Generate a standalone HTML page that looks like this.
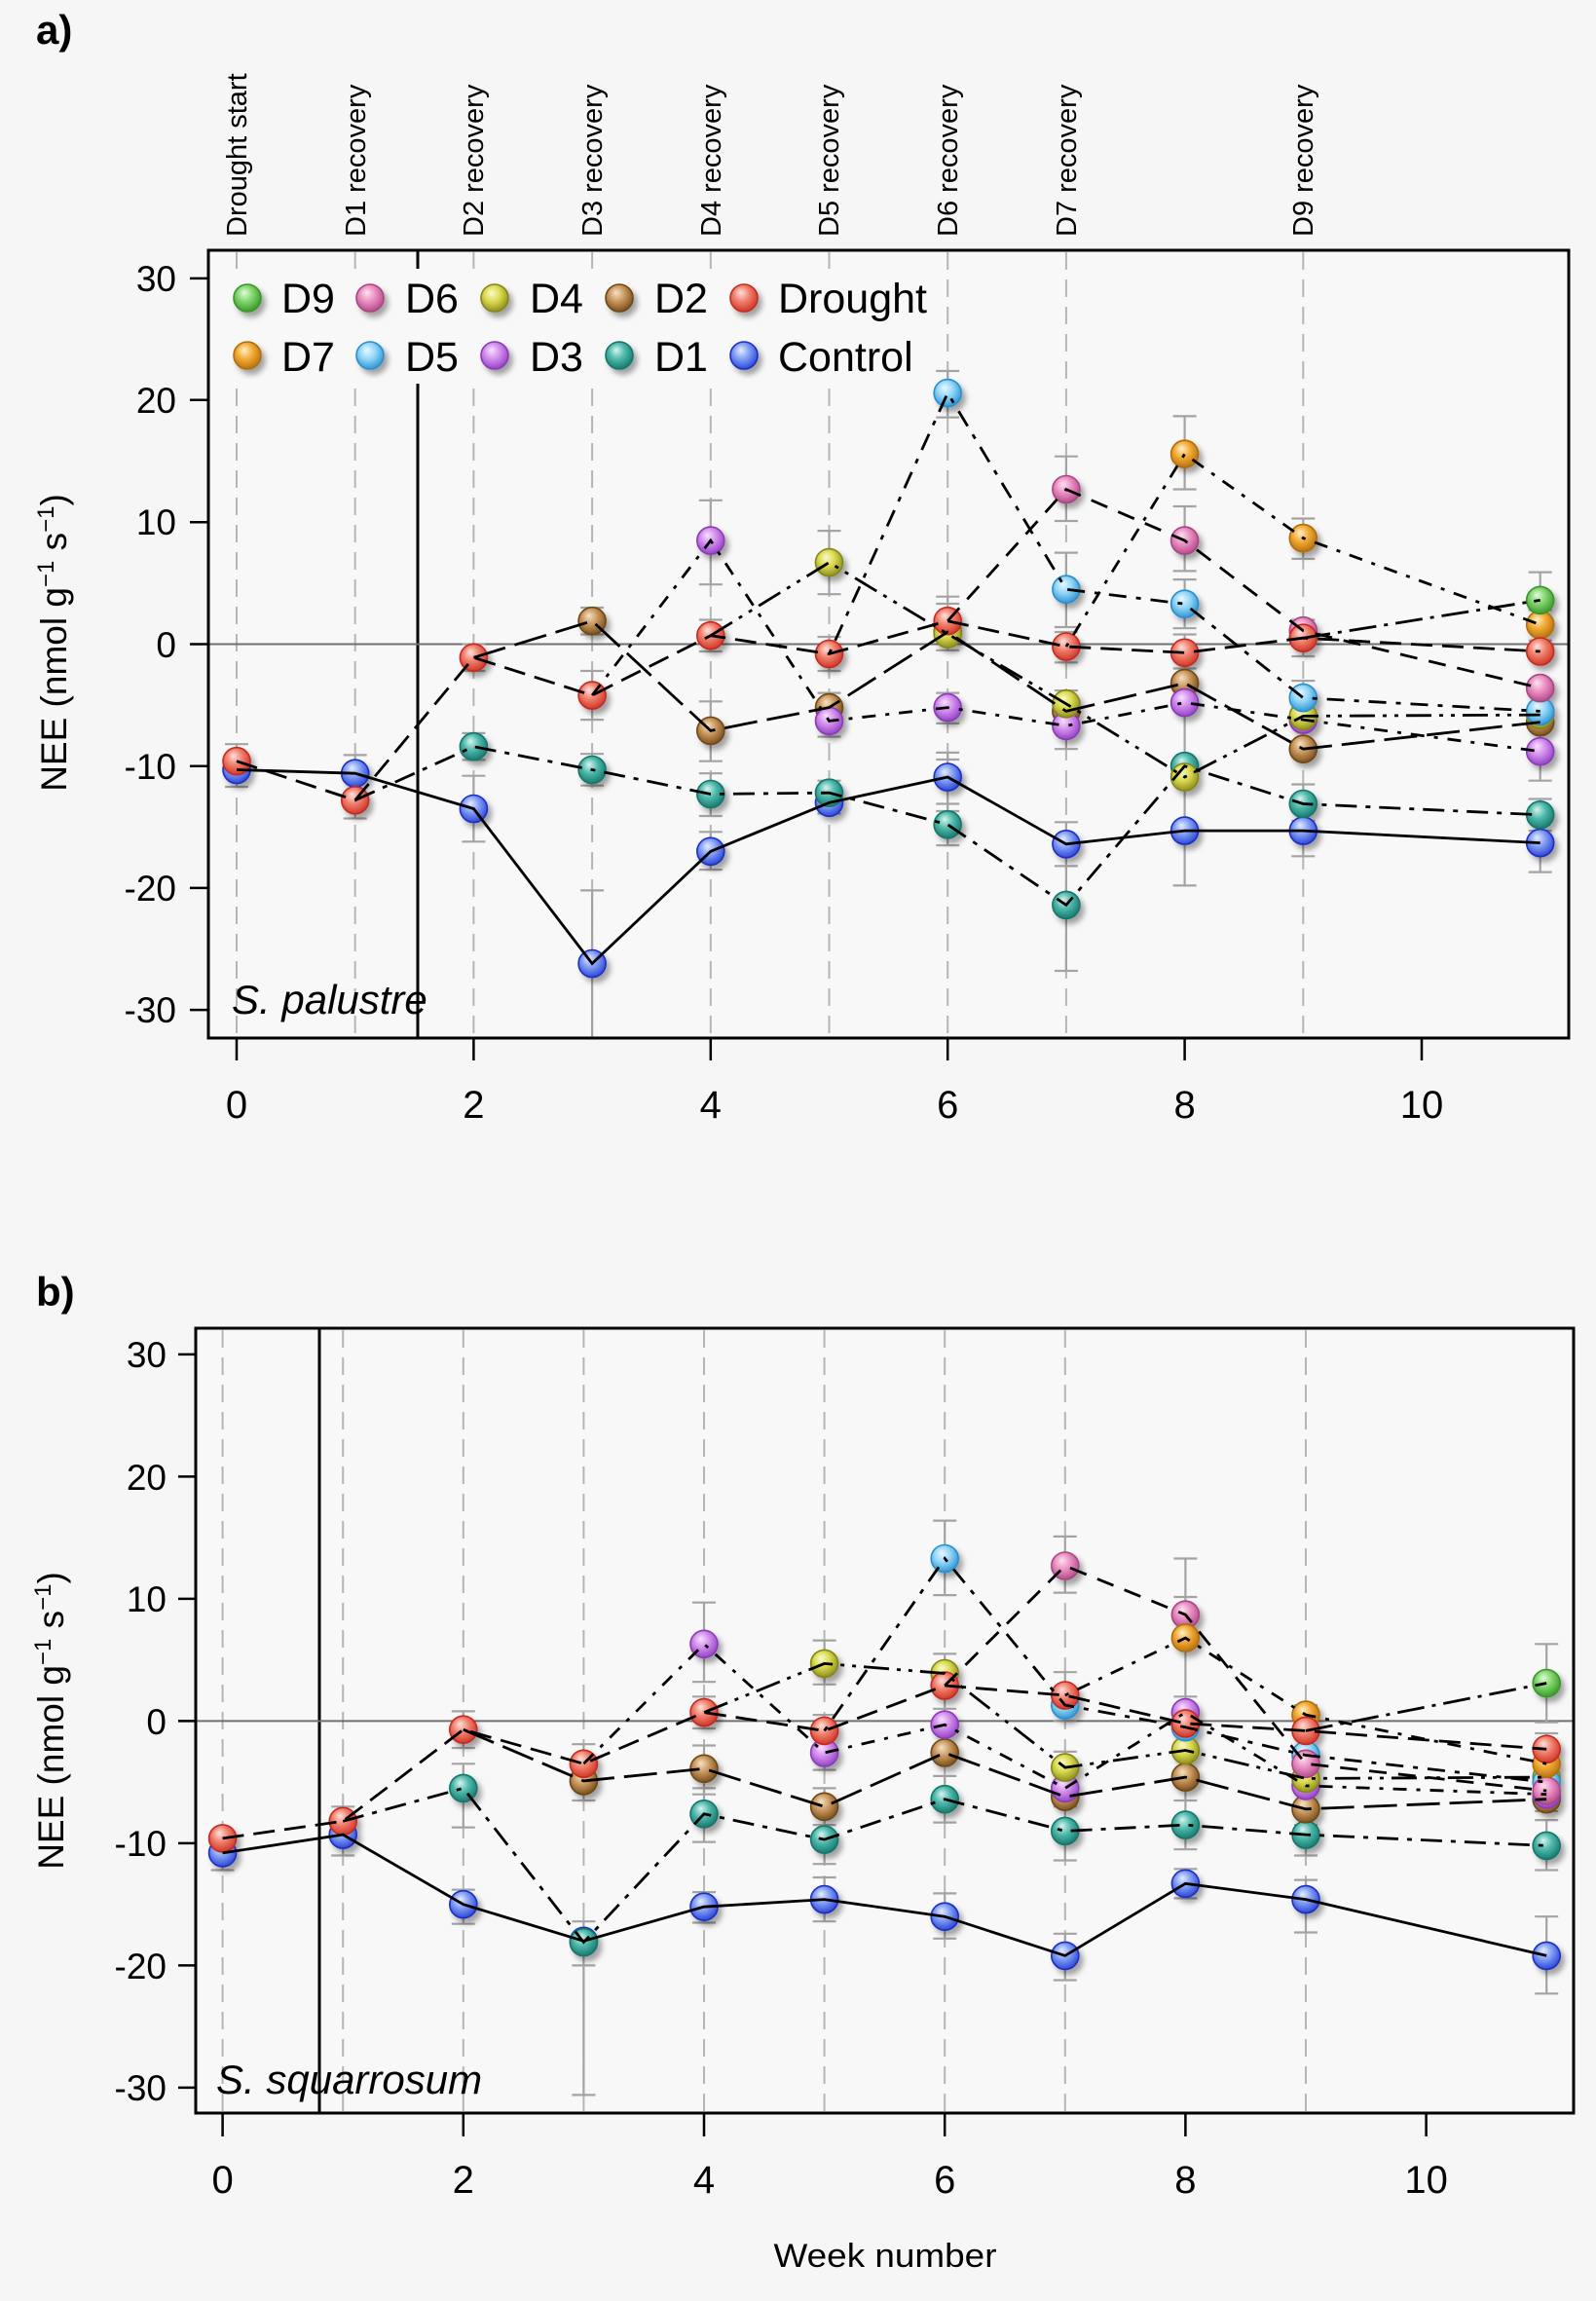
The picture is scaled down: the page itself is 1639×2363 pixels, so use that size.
<!DOCTYPE html>
<html>
<head>
<meta charset="utf-8">
<style>
html,body{margin:0;padding:0;background:#f6f6f6;}
svg{display:block;}
text{font-family:"Liberation Sans",Arial,sans-serif;fill:#000;}
.eb{fill:none;stroke:#a3a3a3;stroke-width:2.2;}
.vd{stroke:#b5b5b5;stroke-width:2;stroke-dasharray:18 10;}
.ln{fill:none;stroke:#000;stroke-width:2.8;}
.pC{fill:url(#gC);stroke:#1b2fc4;stroke-width:1.6;}
.pDr{fill:url(#gDr);stroke:#c42a22;stroke-width:1.6;}
.p1{fill:url(#g1);stroke:#17766c;stroke-width:1.6;}
.p2{fill:url(#g2);stroke:#6e4818;stroke-width:1.6;}
.p3{fill:url(#g3);stroke:#8a3ab8;stroke-width:1.6;}
.p4{fill:url(#g4);stroke:#85851a;stroke-width:1.6;}
.p5{fill:url(#g5);stroke:#2a8fcf;stroke-width:1.6;}
.p6{fill:url(#g6);stroke:#a84682;stroke-width:1.6;}
.p7{fill:url(#g7);stroke:#b06e0c;stroke-width:1.6;}
.p9{fill:url(#g9);stroke:#3a962a;stroke-width:1.6;}
.dC{}
.dDr{stroke-dasharray:22 10;}
.d1{stroke-dasharray:22 9 5 9;}
.d2{stroke-dasharray:34 10;}
.d3{stroke-dasharray:14 10 4 10;}
.d4{stroke-dasharray:26 8 4 8 4 8;}
.d5{stroke-dasharray:5 10 18 10;}
.d6{stroke-dasharray:18 12;}
.d7{stroke-dasharray:4 10 14 10;}
.d9{stroke-dasharray:28 8 4 8;}
</style>
</head>
<body>
<svg width="1639" height="2363" viewBox="0 0 1639 2363" xmlns="http://www.w3.org/2000/svg">
<defs>
<filter id="sh" x="-50%" y="-50%" width="200%" height="200%">
<feDropShadow dx="4" dy="5" stdDeviation="3" flood-color="#000" flood-opacity="0.35"/>
</filter>
<radialGradient id="gC" cx="0.45" cy="0.4" r="0.6" fx="0.38" fy="0.3"><stop offset="0" stop-color="#e6ecff"/><stop offset="0.5" stop-color="#7f9cf2"/><stop offset="1" stop-color="#3048d8"/></radialGradient>
<radialGradient id="gDr" cx="0.45" cy="0.4" r="0.6" fx="0.38" fy="0.3"><stop offset="0" stop-color="#ffe2dc"/><stop offset="0.5" stop-color="#f07e6c"/><stop offset="1" stop-color="#d03828"/></radialGradient>
<radialGradient id="g1" cx="0.45" cy="0.4" r="0.6" fx="0.38" fy="0.3"><stop offset="0" stop-color="#d8f4ef"/><stop offset="0.5" stop-color="#4cb8aa"/><stop offset="1" stop-color="#1a7a70"/></radialGradient>
<radialGradient id="g2" cx="0.45" cy="0.4" r="0.6" fx="0.38" fy="0.3"><stop offset="0" stop-color="#f6e2c8"/><stop offset="0.5" stop-color="#c8955a"/><stop offset="1" stop-color="#7a5020"/></radialGradient>
<radialGradient id="g3" cx="0.45" cy="0.4" r="0.6" fx="0.38" fy="0.3"><stop offset="0" stop-color="#f6e2ff"/><stop offset="0.5" stop-color="#d28ceb"/><stop offset="1" stop-color="#9444c6"/></radialGradient>
<radialGradient id="g4" cx="0.45" cy="0.4" r="0.6" fx="0.38" fy="0.3"><stop offset="0" stop-color="#fafad0"/><stop offset="0.5" stop-color="#dada4e"/><stop offset="1" stop-color="#909020"/></radialGradient>
<radialGradient id="g5" cx="0.45" cy="0.4" r="0.6" fx="0.38" fy="0.3"><stop offset="0" stop-color="#eaf8ff"/><stop offset="0.5" stop-color="#92d6f6"/><stop offset="1" stop-color="#3296d4"/></radialGradient>
<radialGradient id="g6" cx="0.45" cy="0.4" r="0.6" fx="0.38" fy="0.3"><stop offset="0" stop-color="#fde2f0"/><stop offset="0.5" stop-color="#ea8ec2"/><stop offset="1" stop-color="#b44c8c"/></radialGradient>
<radialGradient id="g7" cx="0.45" cy="0.4" r="0.6" fx="0.38" fy="0.3"><stop offset="0" stop-color="#fff0c8"/><stop offset="0.5" stop-color="#f2aa34"/><stop offset="1" stop-color="#b87210"/></radialGradient>
<radialGradient id="g9" cx="0.45" cy="0.4" r="0.6" fx="0.38" fy="0.3"><stop offset="0" stop-color="#e2fadc"/><stop offset="0.5" stop-color="#80d46c"/><stop offset="1" stop-color="#3c9a2c"/></radialGradient>
</defs>

<rect x="0" y="0" width="1639" height="2363" fill="#f6f6f6"/>

<!-- ================= PANEL A ================= -->
<text x="37" y="45" font-size="42" font-weight="bold">a)</text>

<!-- top rotated labels -->
<g font-size="29">
<text transform="translate(253,243) rotate(-90)">Drought start</text>
<text transform="translate(375,243) rotate(-90)">D1 recovery</text>
<text transform="translate(496,243) rotate(-90)">D2 recovery</text>
<text transform="translate(618,243) rotate(-90)">D3 recovery</text>
<text transform="translate(740,243) rotate(-90)">D4 recovery</text>
<text transform="translate(861,243) rotate(-90)">D5 recovery</text>
<text transform="translate(983,243) rotate(-90)">D6 recovery</text>
<text transform="translate(1105,243) rotate(-90)">D7 recovery</text>
<text transform="translate(1348,243) rotate(-90)">D9 recovery</text>
</g>

<rect x="214" y="257" width="1397" height="809" fill="#f8f8f8"/>
<!-- vertical dashed -->
<g class="vd">
<line x1="243" y1="259" x2="243" y2="1064"/>
<line x1="364.7" y1="259" x2="364.7" y2="1064"/>
<line x1="486.4" y1="259" x2="486.4" y2="1064"/>
<line x1="608.1" y1="259" x2="608.1" y2="1064"/>
<line x1="729.8" y1="259" x2="729.8" y2="1064"/>
<line x1="851.5" y1="259" x2="851.5" y2="1064"/>
<line x1="973.2" y1="259" x2="973.2" y2="1064"/>
<line x1="1094.9" y1="259" x2="1094.9" y2="1064"/>
<line x1="1338.3" y1="259" x2="1338.3" y2="1064"/>
</g>
<line x1="429" y1="257" x2="429" y2="1066" stroke="#000" stroke-width="3"/>
<line x1="214" y1="661.5" x2="1611" y2="661.5" stroke="#707070" stroke-width="2"/>

<!-- legend background -->
<rect x="222" y="276" width="743" height="118" fill="#f8f8f8"/>

<!-- y axis -->
<g stroke="#000" stroke-width="2.5">
<line x1="195" y1="285.9" x2="214" y2="285.9"/>
<line x1="195" y1="410.7" x2="214" y2="410.7"/>
<line x1="195" y1="536.3" x2="214" y2="536.3"/>
<line x1="195" y1="661.5" x2="214" y2="661.5"/>
<line x1="195" y1="786.7" x2="214" y2="786.7"/>
<line x1="195" y1="911.9" x2="214" y2="911.9"/>
<line x1="195" y1="1037.1" x2="214" y2="1037.1"/>
</g>
<g font-size="37" text-anchor="end">
<text x="181" y="299">30</text>
<text x="181" y="424">20</text>
<text x="181" y="549">10</text>
<text x="181" y="675">0</text>
<text x="181" y="800">-10</text>
<text x="181" y="925">-20</text>
<text x="181" y="1050">-30</text>
</g>
<text transform="translate(68,660) rotate(-90)" font-size="37" text-anchor="middle">NEE (nmol g<tspan font-size="24" dy="-13">−1</tspan><tspan dy="13"> s</tspan><tspan font-size="24" dy="-13">−1</tspan><tspan dy="13">)</tspan></text>

<!-- x axis -->
<g stroke="#000" stroke-width="2.5">
<line x1="243" y1="1066" x2="243" y2="1089"/>
<line x1="486.4" y1="1066" x2="486.4" y2="1089"/>
<line x1="729.8" y1="1066" x2="729.8" y2="1089"/>
<line x1="973.2" y1="1066" x2="973.2" y2="1089"/>
<line x1="1216.6" y1="1066" x2="1216.6" y2="1089"/>
<line x1="1460" y1="1066" x2="1460" y2="1089"/>
</g>
<g font-size="40" text-anchor="middle">
<text x="243" y="1148">0</text>
<text x="486.4" y="1148">2</text>
<text x="729.8" y="1148">4</text>
<text x="973.2" y="1148">6</text>
<text x="1216.6" y="1148">8</text>
<text x="1460" y="1148">10</text>
</g>

<!-- error bars A -->
<path class="eb" d="M243 764.2V808M231 764.2h24M231 808h24
M364.7 775.4V840.5M352.7 775.4h24M352.7 840.5h24
M486.4 661.5V689M474.4 661.5h24M474.4 689h24M486.4 752.9V780.4M474.4 752.9h24M474.4 780.4h24M486.4 796.7V864.3M474.4 796.7h24M474.4 864.3h24
M608.1 689V739.1M596.1 689h24M596.1 739.1h24M608.1 774.2V806.7M596.1 774.2h24M596.1 806.7h24M608.1 624V651.5M596.1 624h24M596.1 651.5h24M608.1 914.4V1066M596.1 914.4h24
M729.8 513.8V600.2M717.8 513.8h24M717.8 600.2h24M729.8 636.5V669M717.8 636.5h24M717.8 669h24M729.8 720.3V781.7M717.8 720.3h24M717.8 781.7h24M729.8 794.2V838M717.8 794.2h24M717.8 838h24M729.8 854.3V893.1M717.8 854.3h24M717.8 893.1h24
M851.5 545.1V610.2M839.5 545.1h24M839.5 610.2h24M851.5 654V689M839.5 654h24M839.5 689h24M851.5 711.6V756.6M839.5 711.6h24M839.5 756.6h24M851.5 801.7V835.5M839.5 801.7h24M839.5 835.5h24
M973.2 381V428.6M961.2 381h24M961.2 428.6h24M973.2 612.7V667.8M961.2 612.7h24M961.2 620h24M961.2 667.8h24M973.2 711.6V742.9M961.2 711.6h24M961.2 742.9h24M973.2 772.9V833M961.2 772.9h24M961.2 780h24M961.2 833h24M973.2 825.5V868.1M961.2 825.5h24M961.2 868.1h24
M1094.9 468.7V535M1082.9 468.7h24M1082.9 535h24M1094.9 567.6V644M1082.9 567.6h24M1082.9 644h24M1094.9 649V680.3M1082.9 649h24M1082.9 680.3h24M1094.9 709.1V769.2M1082.9 709.1h24M1082.9 769.2h24M1094.9 844.3V889.4M1082.9 844.3h24M1082.9 889.4h24M1094.9 861.8V997M1082.9 861.8h24M1082.9 997h24
M1216.6 427.4V502.5M1204.6 427.4h24M1204.6 502.5h24M1216.6 520V586.4M1204.6 520h24M1204.6 586.4h24M1216.6 595.1V645.2M1204.6 595.1h24M1204.6 645.2h24M1216.6 651.5V686.5M1204.6 651.5h24M1204.6 686.5h24M1216.6 680.3V724.1M1204.6 724.1h24M1216.6 724V909.4M1204.6 799.2h24M1204.6 909.4h24
M1338.3 532.5V573.9M1326.3 532.5h24M1326.3 573.9h24M1338.3 636.5V674M1326.3 636.5h24M1326.3 674h24M1338.3 699.1V761.7M1326.3 699.1h24M1326.3 761.7h24M1338.3 805.5V843M1326.3 805.5h24M1326.3 843h24M1338.3 830.5V879.3M1326.3 830.5h24M1326.3 879.3h24
M1581.7 587.6V645.2M1569.7 587.6h24M1569.7 645.2h24M1581.7 626.4V657.7M1569.7 626.4h24M1569.7 657.7h24M1581.7 742.9V801.7M1569.7 742.9h24M1569.7 801.7h24M1581.7 820.5V853.1M1569.7 820.5h24M1569.7 853.1h24M1581.7 836.8V895.6M1569.7 836.8h24M1569.7 895.6h24"/>

<!-- points A -->
<g filter="url(#sh)">
<g class="pC">
<circle cx="243" cy="790.5" r="14"/><circle cx="364.7" cy="794.2" r="14"/><circle cx="486.4" cy="830.5" r="14"/><circle cx="608.1" cy="989.5" r="14"/><circle cx="729.8" cy="874.3" r="14"/><circle cx="851.5" cy="824.3" r="14"/><circle cx="973.2" cy="798" r="14"/><circle cx="1094.9" cy="866.8" r="14"/><circle cx="1216.6" cy="853.1" r="14"/><circle cx="1338.3" cy="853.1" r="14"/><circle cx="1581.7" cy="865.6" r="14"/>
</g>
<g class="p1">
<circle cx="486.4" cy="766.7" r="14"/><circle cx="608.1" cy="790.5" r="14"/><circle cx="729.8" cy="815.5" r="14"/><circle cx="851.5" cy="814.2" r="14"/><circle cx="973.2" cy="846.8" r="14"/><circle cx="1094.9" cy="929.4" r="14"/><circle cx="1216.6" cy="786.7" r="14"/><circle cx="1338.3" cy="825.5" r="14"/><circle cx="1581.7" cy="836.8" r="14"/>
</g>
<g class="p2">
<circle cx="608.1" cy="637.7" r="14"/><circle cx="729.8" cy="750.4" r="14"/><circle cx="851.5" cy="726.6" r="14"/><circle cx="973.2" cy="649" r="14"/><circle cx="1094.9" cy="730.4" r="14"/><circle cx="1216.6" cy="701.6" r="14"/><circle cx="1338.3" cy="769.2" r="14"/><circle cx="1581.7" cy="741.6" r="14"/>
</g>
<g class="p3">
<circle cx="729.8" cy="555.1" r="14"/><circle cx="851.5" cy="740.4" r="14"/><circle cx="973.2" cy="726.6" r="14"/><circle cx="1094.9" cy="745.4" r="14"/><circle cx="1216.6" cy="721.6" r="14"/><circle cx="1338.3" cy="739.1" r="14"/><circle cx="1581.7" cy="771.7" r="14"/>
</g>
<g class="p4">
<circle cx="851.5" cy="577.6" r="14"/><circle cx="973.2" cy="651" r="14"/><circle cx="1094.9" cy="722.8" r="14"/><circle cx="1216.6" cy="798" r="14"/><circle cx="1338.3" cy="735.4" r="14"/><circle cx="1581.7" cy="734.1" r="14"/>
</g>
<g class="p5">
<circle cx="973.2" cy="403.6" r="14"/><circle cx="1094.9" cy="605.2" r="14"/><circle cx="1216.6" cy="620.2" r="14"/><circle cx="1338.3" cy="716.6" r="14"/><circle cx="1581.7" cy="730.4" r="14"/>
</g>
<g class="p6">
<circle cx="1094.9" cy="502.5" r="14"/><circle cx="1216.6" cy="555.1" r="14"/><circle cx="1338.3" cy="647.7" r="14"/><circle cx="1581.7" cy="706.6" r="14"/>
</g>
<g class="p7">
<circle cx="1216.6" cy="466.2" r="14"/><circle cx="1338.3" cy="552.6" r="14"/><circle cx="1581.7" cy="641.5" r="14"/>
</g>
<g class="p9">
<circle cx="1581.7" cy="616.4" r="14"/>
</g>
<g class="pDr">
<circle cx="243" cy="781.7" r="14"/><circle cx="364.7" cy="821.8" r="14"/><circle cx="486.4" cy="675.3" r="14"/><circle cx="608.1" cy="714.1" r="14"/><circle cx="729.8" cy="652.7" r="14"/><circle cx="851.5" cy="671.5" r="14"/><circle cx="973.2" cy="637.7" r="14"/><circle cx="1094.9" cy="664" r="14"/><circle cx="1216.6" cy="670.3" r="14"/><circle cx="1338.3" cy="655.2" r="14"/><circle cx="1581.7" cy="669" r="14"/>
</g>
</g>

<!-- lines A -->
<polyline class="ln dC" points="243,790.5 364.7,794.2 486.4,830.5 608.1,989.5 729.8,874.3 851.5,824.3 973.2,798 1094.9,866.8 1216.6,853.1 1338.3,853.1 1581.7,865.6"/>
<polyline class="ln dDr" points="243,781.7 364.7,821.8 486.4,675.3 608.1,714.1 729.8,652.7 851.5,671.5 973.2,637.7 1094.9,664 1216.6,670.3 1338.3,655.2 1581.7,669"/>
<polyline class="ln d1" points="364.7,821.8 486.4,766.7 608.1,790.5 729.8,815.5 851.5,814.2 973.2,846.8 1094.9,929.4 1216.6,786.7 1338.3,825.5 1581.7,836.8"/>
<polyline class="ln d2" points="486.4,675.3 608.1,637.7 729.8,750.4 851.5,726.6 973.2,649 1094.9,730.4 1216.6,701.6 1338.3,769.2 1581.7,741.6"/>
<polyline class="ln d3" points="608.1,714.1 729.8,555.1 851.5,740.4 973.2,726.6 1094.9,745.4 1216.6,721.6 1338.3,739.1 1581.7,771.7"/>
<polyline class="ln d4" points="729.8,652.7 851.5,577.6 973.2,651 1094.9,722.8 1216.6,798 1338.3,735.4 1581.7,734.1"/>
<polyline class="ln d5" points="851.5,671.5 973.2,403.6 1094.9,605.2 1216.6,620.2 1338.3,716.6 1581.7,730.4"/>
<polyline class="ln d6" points="973.2,637.7 1094.9,502.5 1216.6,555.1 1338.3,647.7 1581.7,706.6"/>
<polyline class="ln d7" points="1094.9,664 1216.6,466.2 1338.3,552.6 1581.7,641.5"/>
<polyline class="ln d9" points="1338.3,655.2 1581.7,616.4"/>

<!-- legend -->
<g filter="url(#sh)">
<circle class="p9" cx="254" cy="306" r="14"/>
<circle class="p6" cx="380" cy="306" r="14"/>
<circle class="p4" cx="508" cy="306" r="14"/>
<circle class="p2" cx="636" cy="306" r="14"/>
<circle class="pDr" cx="764" cy="306" r="14"/>
<circle class="p7" cx="254" cy="365" r="14"/>
<circle class="p5" cx="380" cy="365" r="14"/>
<circle class="p3" cx="508" cy="365" r="14"/>
<circle class="p1" cx="636" cy="365" r="14"/>
<circle class="pC" cx="764" cy="365" r="14"/>
</g>
<g font-size="43">
<text x="289" y="321">D9</text>
<text x="416" y="321">D6</text>
<text x="544" y="321">D4</text>
<text x="672" y="321">D2</text>
<text x="799" y="321">Drought</text>
<text x="289" y="381">D7</text>
<text x="416" y="381">D5</text>
<text x="544" y="381">D3</text>
<text x="672" y="381">D1</text>
<text x="799" y="381">Control</text>
</g>

<text x="238" y="1041" font-size="42" font-style="italic">S. palustre</text>

<rect x="214" y="257" width="1397" height="809" fill="none" stroke="#000" stroke-width="3"/>

<!-- ================= PANEL B ================= -->
<text x="37" y="1341" font-size="42" font-weight="bold">b)</text>

<rect x="201" y="1364" width="1415" height="806" fill="#f8f8f8"/>
<g class="vd">
<line x1="228.6" y1="1366" x2="228.6" y2="2168"/>
<line x1="352.2" y1="1366" x2="352.2" y2="2168"/>
<line x1="475.8" y1="1366" x2="475.8" y2="2168"/>
<line x1="599.4" y1="1366" x2="599.4" y2="2168"/>
<line x1="723" y1="1366" x2="723" y2="2168"/>
<line x1="846.6" y1="1366" x2="846.6" y2="2168"/>
<line x1="970.2" y1="1366" x2="970.2" y2="2168"/>
<line x1="1093.8" y1="1366" x2="1093.8" y2="2168"/>
<line x1="1341" y1="1366" x2="1341" y2="2168"/>
</g>
<line x1="328" y1="1364" x2="328" y2="2170" stroke="#000" stroke-width="3"/>
<line x1="201" y1="1767.4" x2="1616" y2="1767.4" stroke="#707070" stroke-width="2"/>

<g stroke="#000" stroke-width="2.5">
<line x1="183" y1="1390.9" x2="201" y2="1390.9"/>
<line x1="183" y1="1516.4" x2="201" y2="1516.4"/>
<line x1="183" y1="1641.9" x2="201" y2="1641.9"/>
<line x1="183" y1="1767.4" x2="201" y2="1767.4"/>
<line x1="183" y1="1892.9" x2="201" y2="1892.9"/>
<line x1="183" y1="2018.4" x2="201" y2="2018.4"/>
<line x1="183" y1="2143.9" x2="201" y2="2143.9"/>
</g>
<g font-size="37" text-anchor="end">
<text x="171" y="1404">30</text>
<text x="171" y="1530">20</text>
<text x="171" y="1655">10</text>
<text x="171" y="1781">0</text>
<text x="171" y="1906">-10</text>
<text x="171" y="2032">-20</text>
<text x="171" y="2157">-30</text>
</g>
<text transform="translate(65,1767) rotate(-90)" font-size="37" text-anchor="middle">NEE (nmol g<tspan font-size="24" dy="-13">−1</tspan><tspan dy="13"> s</tspan><tspan font-size="24" dy="-13">−1</tspan><tspan dy="13">)</tspan></text>

<g stroke="#000" stroke-width="2.5">
<line x1="228.6" y1="2170" x2="228.6" y2="2194"/>
<line x1="475.8" y1="2170" x2="475.8" y2="2194"/>
<line x1="723" y1="2170" x2="723" y2="2194"/>
<line x1="970.2" y1="2170" x2="970.2" y2="2194"/>
<line x1="1217.4" y1="2170" x2="1217.4" y2="2194"/>
<line x1="1464.6" y1="2170" x2="1464.6" y2="2194"/>
</g>
<g font-size="40" text-anchor="middle">
<text x="228.6" y="2252">0</text>
<text x="475.8" y="2252">2</text>
<text x="723" y="2252">4</text>
<text x="970.2" y="2252">6</text>
<text x="1217.4" y="2252">8</text>
<text x="1464.6" y="2252">10</text>
</g>
<text x="909" y="2328" font-size="34" text-anchor="middle" textLength="229" lengthAdjust="spacingAndGlyphs">Week number</text>

<!-- error bars B -->
<path class="eb" d="M228.6 1880.4V1920.5M216.6 1880.4h24M216.6 1920.5h24
M352.2 1855.3V1905.5M340.2 1855.3h24M340.2 1905.5h24
M475.8 1757.4V1795M463.8 1757.4h24M463.8 1795h24M475.8 1811.3V1876.6M463.8 1811.3h24M463.8 1876.6h24M475.8 1940.6V1975.7M463.8 1940.6h24M463.8 1975.7h24
M599.4 1791.2V1849M587.4 1791.2h24M587.4 1836.4h24M587.4 1849h24M599.4 1973.2V2151.4M587.4 1973.2h24M587.4 2018.4h24M587.4 2151.4h24
M723 1645.7V1727.2M711 1645.7h24M711 1727.2h24M723 1742.3V1775M711 1742.3h24M711 1775h24M723 1792.5V1891.6M711 1792.5h24M711 1842.7h24M711 1836.4h24M711 1891.6h24M723 1943.1V1974.5M711 1943.1h24M711 1974.5h24
M846.6 1684.6V1729.8M834.6 1684.6h24M834.6 1729.8h24M846.6 1761.1V1817.6M834.6 1761.1h24M834.6 1817.6h24M846.6 1836.4V1914.2M834.6 1836.4h24M834.6 1874.1h24M834.6 1914.2h24M846.6 1928V1973.2M834.6 1928h24M834.6 1973.2h24
M970.2 1561.6V1638.1M958.2 1561.6h24M958.2 1638.1h24M970.2 1698.4V1792.5M958.2 1698.4h24M958.2 1754.8h24M958.2 1792.5h24M970.2 1823.9V1871.6M958.2 1823.9h24M958.2 1871.6h24M970.2 1944.4V1990.8M958.2 1944.4h24M958.2 1990.8h24
M1093.8 1577.9V1635.6M1081.8 1577.9h24M1081.8 1635.6h24M1093.8 1717.2V1767.4M1081.8 1717.2h24M1081.8 1767.4h24M1093.8 1798.8V1910.5M1081.8 1798.8h24M1081.8 1855.3h24M1081.8 1910.5h24M1093.8 1985.8V2033.5M1081.8 1985.8h24M1081.8 2033.5h24
M1217.4 1600.5V1899.2M1205.4 1600.5h24M1205.4 1640h24M1205.4 1742.3h24M1205.4 1805.1h24M1205.4 1849h24M1205.4 1899.2h24M1217.4 1919.3V1949.4M1205.4 1919.3h24M1205.4 1949.4h24
M1341 1751.1V1905.5M1329 1751.1h24M1329 1798.8h24M1329 1874.1h24M1329 1905.5h24M1341 1930.6V1984.5M1329 1930.6h24M1329 1984.5h24
M1588.2 1688.3V1768.7M1576.2 1688.3h24M1576.2 1768.7h24M1588.2 1780V1860M1576.2 1780h24M1576.2 1860h24M1588.2 1869.1V1920.5M1576.2 1869.1h24M1576.2 1920.5h24M1588.2 1968.2V2047.3M1576.2 1968.2h24M1576.2 2047.3h24"/>

<!-- points B -->
<g filter="url(#sh)">
<g class="pC">
<circle cx="228.6" cy="1902.9" r="14"/><circle cx="352.2" cy="1884.1" r="14"/><circle cx="475.8" cy="1955.7" r="14"/><circle cx="599.4" cy="1993.3" r="14"/><circle cx="723" cy="1958.2" r="14"/><circle cx="846.6" cy="1950.6" r="14"/><circle cx="970.2" cy="1968.2" r="14"/><circle cx="1093.8" cy="2008.4" r="14"/><circle cx="1217.4" cy="1934.3" r="14"/><circle cx="1341" cy="1950.6" r="14"/><circle cx="1588.2" cy="2008.4" r="14"/>
</g>
<g class="p1">
<circle cx="475.8" cy="1836.4" r="14"/><circle cx="599.4" cy="1994.6" r="14"/><circle cx="723" cy="1862.8" r="14"/><circle cx="846.6" cy="1889.1" r="14"/><circle cx="970.2" cy="1847.7" r="14"/><circle cx="1093.8" cy="1880.4" r="14"/><circle cx="1217.4" cy="1874.1" r="14"/><circle cx="1341" cy="1884.1" r="14"/><circle cx="1588.2" cy="1895.4" r="14"/>
</g>
<g class="p2">
<circle cx="599.4" cy="1828.9" r="14"/><circle cx="723" cy="1816.3" r="14"/><circle cx="846.6" cy="1855.3" r="14"/><circle cx="970.2" cy="1800" r="14"/><circle cx="1093.8" cy="1845.2" r="14"/><circle cx="1217.4" cy="1825.1" r="14"/><circle cx="1341" cy="1857.8" r="14"/><circle cx="1588.2" cy="1847.7" r="14"/>
</g>
<g class="p3">
<circle cx="723" cy="1688.3" r="14"/><circle cx="846.6" cy="1800" r="14"/><circle cx="970.2" cy="1771.2" r="14"/><circle cx="1093.8" cy="1836.4" r="14"/><circle cx="1217.4" cy="1758.6" r="14"/><circle cx="1341" cy="1833.9" r="14"/><circle cx="1588.2" cy="1842.7" r="14"/>
</g>
<g class="p4">
<circle cx="846.6" cy="1708.4" r="14"/><circle cx="970.2" cy="1718.5" r="14"/><circle cx="1093.8" cy="1815.1" r="14"/><circle cx="1217.4" cy="1797.5" r="14"/><circle cx="1341" cy="1826.4" r="14"/><circle cx="1588.2" cy="1825.1" r="14"/>
</g>
<g class="p5">
<circle cx="970.2" cy="1600.5" r="14"/><circle cx="1093.8" cy="1751.1" r="14"/><circle cx="1217.4" cy="1773.7" r="14"/><circle cx="1341" cy="1802.5" r="14"/><circle cx="1588.2" cy="1830.2" r="14"/>
</g>
<g class="p6">
<circle cx="1093.8" cy="1608" r="14"/><circle cx="1217.4" cy="1658.2" r="14"/><circle cx="1341" cy="1811.3" r="14"/><circle cx="1588.2" cy="1839" r="14"/>
</g>
<g class="p7">
<circle cx="1217.4" cy="1682.1" r="14"/><circle cx="1341" cy="1761.1" r="14"/><circle cx="1588.2" cy="1811.3" r="14"/>
</g>
<g class="p9">
<circle cx="1588.2" cy="1728.5" r="14"/>
</g>
<g class="pDr">
<circle cx="228.6" cy="1887.9" r="14"/><circle cx="352.2" cy="1870.3" r="14"/><circle cx="475.8" cy="1776.2" r="14"/><circle cx="599.4" cy="1811.3" r="14"/><circle cx="723" cy="1758.6" r="14"/><circle cx="846.6" cy="1777.4" r="14"/><circle cx="970.2" cy="1731" r="14"/><circle cx="1093.8" cy="1741" r="14"/><circle cx="1217.4" cy="1769.9" r="14"/><circle cx="1341" cy="1777.4" r="14"/><circle cx="1588.2" cy="1796.3" r="14"/>
</g>
</g>

<!-- lines B -->
<polyline class="ln dC" points="228.6,1902.9 352.2,1884.1 475.8,1955.7 599.4,1993.3 723,1958.2 846.6,1950.6 970.2,1968.2 1093.8,2008.4 1217.4,1934.3 1341,1950.6 1588.2,2008.4"/>
<polyline class="ln dDr" points="228.6,1887.9 352.2,1870.3 475.8,1776.2 599.4,1811.3 723,1758.6 846.6,1777.4 970.2,1731 1093.8,1741 1217.4,1769.9 1341,1777.4 1588.2,1796.3"/>
<polyline class="ln d1" points="352.2,1870.3 475.8,1836.4 599.4,1994.6 723,1862.8 846.6,1889.1 970.2,1847.7 1093.8,1880.4 1217.4,1874.1 1341,1884.1 1588.2,1895.4"/>
<polyline class="ln d2" points="475.8,1776.2 599.4,1828.9 723,1816.3 846.6,1855.3 970.2,1800 1093.8,1845.2 1217.4,1825.1 1341,1857.8 1588.2,1847.7"/>
<polyline class="ln d3" points="599.4,1811.3 723,1688.3 846.6,1800 970.2,1771.2 1093.8,1836.4 1217.4,1758.6 1341,1833.9 1588.2,1842.7"/>
<polyline class="ln d4" points="723,1758.6 846.6,1708.4 970.2,1718.5 1093.8,1815.1 1217.4,1797.5 1341,1826.4 1588.2,1825.1"/>
<polyline class="ln d5" points="846.6,1777.4 970.2,1600.5 1093.8,1751.1 1217.4,1773.7 1341,1802.5 1588.2,1830.2"/>
<polyline class="ln d6" points="970.2,1731 1093.8,1608 1217.4,1658.2 1341,1811.3 1588.2,1839"/>
<polyline class="ln d7" points="1093.8,1741 1217.4,1682.1 1341,1761.1 1588.2,1811.3"/>
<polyline class="ln d9" points="1341,1777.4 1588.2,1728.5"/>

<text x="222" y="2150" font-size="42" font-style="italic">S. squarrosum</text>

<rect x="201" y="1364" width="1415" height="806" fill="none" stroke="#000" stroke-width="3"/>
</svg>
</body>
</html>
